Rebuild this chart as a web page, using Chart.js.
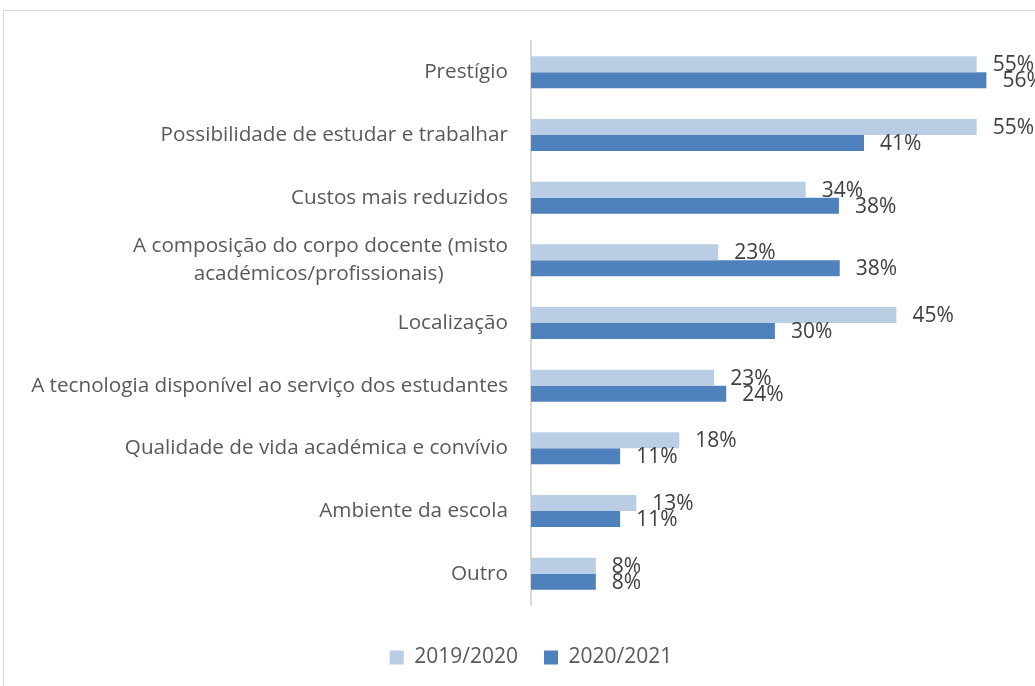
<!DOCTYPE html>
<html lang="pt">
<head>
<meta charset="utf-8">
<script src="https://cdn.jsdelivr.net/npm/chart.js@4"></script>
<style>
  html, body { margin: 0; padding: 0; background: #fff; overflow: hidden; }
  #frame { position: absolute; left: 3px; top: 10px; width: 1100px; height: 720px; border: 1px solid #d9d9d9; }
  #chart { position: absolute; left: 0; top: 0; }
</style>
</head>
<body>
<div id="frame"></div>
<canvas id="chart" width="1035" height="686"></canvas>
<script>
// Dados
const categorias = [
  "Prestígio",
  "Possibilidade de estudar e trabalhar",
  "Custos mais reduzidos",
  ["A composição do corpo docente (misto", "académicos/profissionais)            "],
  "Localização",
  "A tecnologia disponível ao serviço dos estudantes",
  "Qualidade de vida académica e convívio",
  "Ambiente da escola",
  "Outro"
];
const anos = ["2019/2020", "2020/2021"];
const valores2019 = [55, 55, 33.9, 23.1, 45.1, 22.6, 18.3, 13, 8];
const valores2020 = [56.2, 41.1, 38, 38.1, 30.1, 24.1, 11, 11, 8];

const FONTE = "'Open Sans', 'Noto Sans', sans-serif";

// rótulos de valor no fim das barras
const rotulos = {
  id: "rotulos",
  afterDatasetsDraw(chart) {
    const ctx = chart.ctx;
    ctx.save();
    ctx.font = "21px " + FONTE;
    ctx.fillStyle = "#404040";
    ctx.textAlign = "left";
    ctx.textBaseline = "middle";
    chart.data.datasets.forEach((ds, i) => {
      chart.getDatasetMeta(i).data.forEach((bar, j) => {
        ctx.fillText(Math.round(ds.data[j]) + "%", bar.x + 16, bar.y + 1);
      });
    });
    ctx.restore();
  }
};

new Chart(document.getElementById("chart"), {
  type: "bar",
  data: {
    labels: categorias,
    datasets: [
      { label: anos[0], data: valores2019, backgroundColor: "#b9cde5" },
      { label: anos[1], data: valores2020, backgroundColor: "#4f81bd" }
    ]
  },
  options: {
    indexAxis: "y",
    responsive: false,
    animation: false,
    devicePixelRatio: 1,
    categoryPercentage: 0.51,
    barPercentage: 1,
    layout: { padding: { left: 27, right: 0, top: 41, bottom: 8 } },
    plugins: {
      tooltip: { enabled: false },
      legend: {
        position: "bottom",
        labels: {
          boxWidth: 14,
          boxHeight: 14,
          padding: 26,
          color: "#595959",
          font: { family: FONTE, size: 21 }
        }
      }
    },
    scales: {
      x: {
        min: 0,
        max: 62.2,
        grid: { display: false, drawTicks: false },
        border: { display: false },
        ticks: { display: false },
        afterFit(s) { s.height = 16; }
      },
      y: {
        grid: { display: false, drawTicks: false },
        border: { color: "#d9d9d9", width: 2 },
        ticks: {
          padding: 23,
          color: "#595959",
          font: { family: FONTE, size: 20.7, lineHeight: 1.35 }
        },
        afterFit(s) { s.width = 504; }
      }
    }
  },
  plugins: [rotulos]
});
</script>
</body>
</html>
